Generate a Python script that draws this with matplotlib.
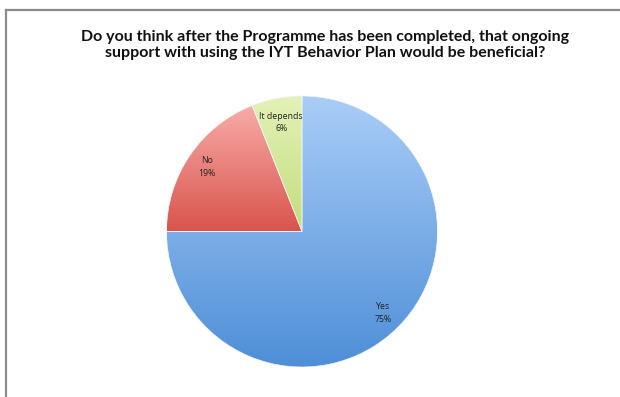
import matplotlib.pyplot as plt
import matplotlib.colors as mcolors
import numpy as np

names = ['Yes', 'No', 'It depends']
values = [75, 19, 6]
top_colors = ['#aacdf8', '#f8aca8', '#e3f2b8']
bottom_colors = ['#4d8ed7', '#d9544d', '#c3dd7c']

fig = plt.figure(figsize=(6.2, 3.97), dpi=100)

# grey frame, open to the right and bottom
fig.add_artist(plt.Line2D([5.5 / 620, 5.5 / 620], [0, 1 - 10 / 397],
                          transform=fig.transFigure, color='#8a8a8a', lw=1.6))
fig.add_artist(plt.Line2D([5.5 / 620, 1], [1 - 10 / 397, 1 - 10 / 397],
                          transform=fig.transFigure, color='#8a8a8a', lw=1.6))

fig.text(325 / 620, 1 - 45 / 397,
         'Do you think after the Programme has been completed, that ongoing\n'
         'support with using the IYT Behavior Plan would be beneficial?',
         ha='center', va='center', fontsize=11.5, fontweight='bold',
         family='Lato', linespacing=1.2, color='#111111')

cx, cy, r = 302, 397 - 231.5, 135.5
ax = fig.add_axes([(cx - r) / 620, (cy - r) / 397, 2 * r / 620, 2 * r / 397])

wedges, _ = ax.pie(values, startangle=90, counterclock=False, radius=1,
                   wedgeprops=dict(linewidth=0.5, edgecolor='#f4f4f4'))

for w, c_top, c_bot, name, v in zip(wedges, top_colors, bottom_colors, names, values):
    verts = w.get_path().vertices
    x0, x1 = verts[:, 0].min(), verts[:, 0].max()
    y0, y1 = verts[:, 1].min(), verts[:, 1].max()
    cmap = mcolors.LinearSegmentedColormap.from_list('g', [c_bot, c_top])
    grad = np.linspace(1, 0, 256).reshape(-1, 1)
    im = ax.imshow(grad, cmap=cmap, extent=(x0, x1, y0, y1), aspect='auto',
                   origin='upper', zorder=1, vmin=0, vmax=1)
    im.set_clip_path(w)
    w.set_facecolor('none')
    w.set_zorder(2)

    mid = np.deg2rad((w.theta1 + w.theta2) / 2)
    d = 0.85 if name != 'It depends' else 0.82
    ax.text(d * np.cos(mid), d * np.sin(mid), f'{name}\n{v}%',
            ha='center', va='center', fontsize=6.3, family='Open Sans',
            color='#222222', linespacing=1.5, zorder=3)

ax.set_xlim(-1, 1)
ax.set_ylim(-1, 1)
ax.axis('off')

fig.savefig('out.png', dpi=100)
